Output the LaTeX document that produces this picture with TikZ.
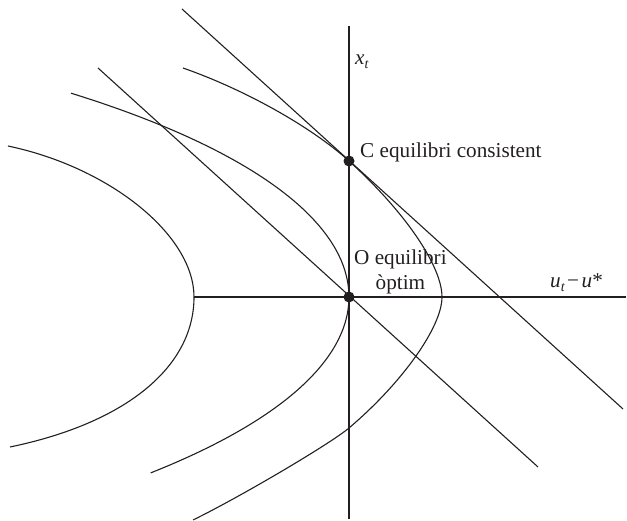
\documentclass[tikz,border=0pt]{standalone}
\usepackage{fontspec}
\setmainfont{Liberation Serif}
\definecolor{ink}{RGB}{35,31,32}
\newcommand{\subt}{\raisebox{-4pt}{\fontsize{14}{14}\selectfont\itshape t}}
\begin{document}
\begin{tikzpicture}[x=1pt,y=-1pt,
  axisline/.style={draw=ink, line width=1.15pt},
  straight/.style={draw=ink, line width=1.1pt},
  curve/.style={draw=ink, line width=1.1pt},
  dot/.style={circle, fill=ink, draw=none, inner sep=0pt, minimum size=11pt},
  lbl/.style={inner sep=0pt, text=ink, font=\fontsize{21.2}{25}\selectfont}]
\useasboundingbox (0,0) rectangle (627,521);
% axes
\coordinate (ytop) at (349,26);
\coordinate (ybot) at (349,519);
\coordinate (xleft) at (194,297);
\coordinate (xright) at (626,297);
\draw[axisline] (ytop) -- (ybot);
\draw[axisline] (xleft) -- (xright);
% straight lines
\coordinate (l1a) at (98,68);
\coordinate (l1b) at (538,467);
\coordinate (l2a) at (182,9);
\coordinate (l2b) at (623,409);
\draw[straight] (l1a) -- (l1b);
\draw[straight] (l2a) -- (l2b);
% curve A (leftmost)
\coordinate (aup) at (8,146);
\coordinate (av) at (194,297);
\coordinate (alo) at (10,447);
\draw[curve] (aup) .. controls (110.3,167.5) and (194,235.4) .. (av)
  .. controls (194,367) and (126,423) .. (alo);
% curve B (through O)
\draw[curve] plot[domain=-42.8:35.9, samples=120, smooth]
  ({-695+1044*cos(\x)}, {297+300*sin(\x)});
% curve C (through C)
\coordinate (cup) at (183,68);
\coordinate (cv) at (442,297);
\coordinate (cx) at (349,428);
\coordinate (clo) at (193,520);
\draw[curve] (cup) .. controls (245,89.7) and (311.4,126.9) .. (349,161)
  .. controls (404.8,211.6) and (442,266) .. (cv)
  .. controls (442,327) and (402,383) .. (cx)
  .. controls (330,444) and (240,497) .. (clo);
% points
\node[dot] (C) at (349,161) {};
\node[dot] (O) at (349,297) {};
% labels
\node[lbl, anchor=base west] (xt) at (355,65) {\itshape x\subt};
\node[lbl, anchor=base west] (Clbl) at (360,158) {C equilibri consistent};
\node[lbl, anchor=base west, align=center] (Olbl) at (354,290) {O equilibri\\òptim};
\node[lbl, anchor=base west] (ulbl) at (550,288) {{\itshape u}\subt\kern2.5pt−\kern2.5pt{\itshape u}*};
\end{tikzpicture}
\end{document}
